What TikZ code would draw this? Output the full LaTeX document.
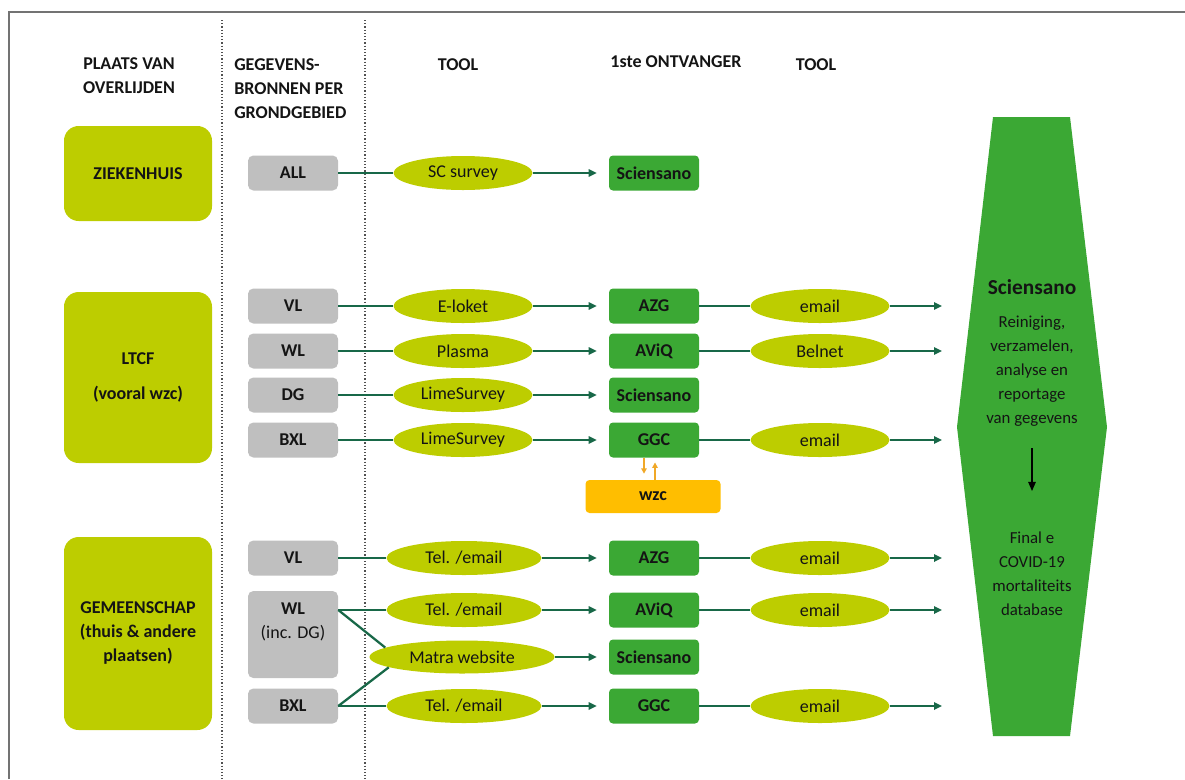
\documentclass[tikz,border=0pt]{standalone}
\usepackage{fontspec}
\setmainfont{Carlito}
\usetikzlibrary{shapes.geometric,arrows.meta}
\definecolor{limegr}{RGB}{189,205,0}
\definecolor{srcgrey}{RGB}{191,191,191}
\definecolor{recvgreen}{RGB}{59,168,52}
\definecolor{linkgreen}{RGB}{24,104,72}
\definecolor{wzcorange}{RGB}{255,190,0}
\definecolor{wzcarrow}{RGB}{240,168,40}
\definecolor{framegrey}{RGB}{115,115,115}
\definecolor{divgrey}{RGB}{80,80,80}
\definecolor{ink}{RGB}{20,20,20}
\begin{document}
\fontsize{13.5}{18}\selectfont
\begin{tikzpicture}[x=0.75pt,y=-0.75pt,
    every node/.style={text=ink},
    region/.style={fill=limegr,rounded corners=11pt,minimum width=111pt,inner sep=0,align=center,font=\bfseries},
    src/.style={fill=srcgrey,rounded corners=4pt,minimum width=67.5pt,minimum height=26.25pt,inner sep=0,font=\bfseries},
    tool/.style={ellipse,fill=limegr,minimum width=104.25pt,minimum height=25.5pt,inner sep=0},
    recv/.style={fill=recvgreen,rounded corners=3pt,minimum width=67.5pt,minimum height=26.25pt,inner sep=0,font=\bfseries},
    link/.style={draw=linkgreen,line width=1.7pt},
    arr/.style={link,-{Triangle[length=6pt,width=5.5pt]}},
    oarr/.style={draw=wzcarrow,line width=1.1pt,-{Triangle[length=4pt,width=4pt]}},
    divider/.style={draw=divgrey,line width=1.1pt,dash pattern=on 0.9pt off 1.5pt},
    hextext/.style={font=\fontsize{12.6}{18}\selectfont,align=center}]
  \useasboundingbox (0,0) rectangle (1185,779);
  \draw[line width=1.5pt,draw=framegrey] (9,779) -- (9,12) -- (1185,12);
  \draw[divider] (222,20) -- (222,779);
  \draw[divider] (365,20) -- (365,779);
  \node[font=\bfseries,align=center] (hplace) at (129,76) {PLAATS VAN\\OVERLIJDEN};
  \node[font=\bfseries,align=left,anchor=west,inner sep=0] (hsrc) at (234,89) {GEGEVENS-\\BRONNEN PER\\GRONDGEBIED};
  \node[font=\bfseries] (htool) at (458,65) {TOOL};
  \node[font=\bfseries] (hrecv) at (676,62) {1ste ONTVANGER};
  \node[font=\bfseries] (htool2) at (816,65) {TOOL};
  \node[region,minimum height=71.25pt] (ziek) at (138,173.5) {ZIEKENHUIS};
  \node[region,minimum height=128.25pt] (ltcf) at (138,377.5) {LTCF\\[8pt](vooral wzc)};
  \node[region,minimum height=144.75pt] (gem) at (138,633.5) {GEMEENSCHAP\\(thuis \& andere\\plaatsen)};
  \node[src] (all) at (293,173) {ALL};
  \node[src] (vl1) at (293,306) {VL};
  \node[src] (wl1) at (293,351) {WL};
  \node[src] (dg1) at (293,395) {DG};
  \node[src] (bxl1) at (293,440) {BXL};
  \node[src] (vl2) at (293,558) {VL};
  \node[src,minimum height=65.25pt] (wl2) at (293,634.5) {};
  \node[align=center] (wl2t) at (293,622) {\textbf{WL}\\(inc. DG)};
  \node[src] (bxl2) at (293,706) {BXL};
  \node[tool] (sc) at (463,173) {SC survey};
  \node[tool] (eloket) at (463,306) {E-loket};
  \node[tool] (plasma) at (463,351) {Plasma};
  \node[tool] (lime1) at (463,395) {LimeSurvey};
  \node[tool] (lime2) at (463,440) {LimeSurvey};
  \node[tool,minimum width=116.25pt] (tel1) at (464,558) {Tel. /email};
  \node[tool,minimum width=116.25pt] (tel2) at (464,610) {Tel. /email};
  \node[tool,minimum width=138.75pt,minimum height=24.75pt] (matra) at (462,657) {Matra website};
  \node[tool,minimum width=116.25pt] (tel3) at (464,706) {Tel. /email};
  \node[recv] (sci1) at (654,173) {Sciensano};
  \node[recv] (azg1) at (654,306) {AZG};
  \node[recv] (aviq1) at (654,351) {AViQ};
  \node[recv] (sci2) at (654,395) {Sciensano};
  \node[recv] (ggc1) at (654,440) {GGC};
  \node[recv] (azg2) at (654,558) {AZG};
  \node[recv] (aviq2) at (654,610) {AViQ};
  \node[recv] (sci3) at (654,657) {Sciensano};
  \node[recv] (ggc2) at (654,706) {GGC};
  \node[fill=wzcorange,rounded corners=3pt,minimum width=101.25pt,minimum height=24.75pt,inner sep=0,font=\bfseries] (wzc) at (653,496.5) {wzc};
  \node[tool] (em1) at (820,306) {email};
  \node[tool] (belnet) at (820,351) {Belnet};
  \node[tool] (em2) at (820,440) {email};
  \node[tool] (em3) at (820,558) {email};
  \node[tool] (em4) at (820,610) {email};
  \node[tool] (em5) at (820,706) {email};
  \fill[recvgreen] (993,117) -- (1070,117) -- (1107,427) -- (1070,736) -- (993,736) -- (957,427) -- cycle;
  \node[font=\fontsize{16}{18}\selectfont\bfseries] (hsci) at (1032,287) {Sciensano};
  \node[hextext] (hwork) at (1032,371) {Reiniging,\\verzamelen,\\analyse en\\reportage\\van gegevens};
  \node[hextext] (hdb) at (1032,574) {Final e\\COVID-19\\mortaliteits\\database};
  \draw[line width=1.5pt,-{Triangle[length=7pt,width=5.5pt]},shorten <=12pt,shorten >=26pt] (hwork) -- (hdb);
  \coordinate (hin) at (942,0);
  \draw[link] (all) -- (sc);
  \draw[arr,shorten >=9pt] (sc) -- (sci1);
  \foreach \s/\t/\r in {vl1/eloket/azg1,wl1/plasma/aviq1,dg1/lime1/sci2,bxl1/lime2/ggc1,vl2/tel1/azg2,bxl2/tel3/ggc2}
    {\draw[link] (\s) -- (\t); \draw[arr,shorten >=9pt] (\t) -- (\r);}
  \draw[link] (wl2.east |- tel2) -- (tel2);
  \draw[arr,shorten >=9pt] (tel2) -- (aviq2);
  \draw[link] (wl2.east |- tel2) -- (matra.173) (bxl2.east) -- (matra.188);
  \draw[arr,shorten >=9pt] (matra) -- (sci3);
  \foreach \r/\t in {azg1/em1,aviq1/belnet,ggc1/em2,azg2/em3,aviq2/em4,ggc2/em5}
    {\draw[link] (\r) -- (\t); \draw[arr] (\t) -- (\t -| hin);}
  \draw[oarr,shorten >=4.5pt] ([xshift=-7.5pt]ggc1.south) -- ([xshift=-6.75pt]wzc.north);
  \draw[oarr,shorten >=3.5pt] ([xshift=1.5pt]wzc.north) -- ([xshift=0.75pt]ggc1.south);
\end{tikzpicture}
\end{document}
